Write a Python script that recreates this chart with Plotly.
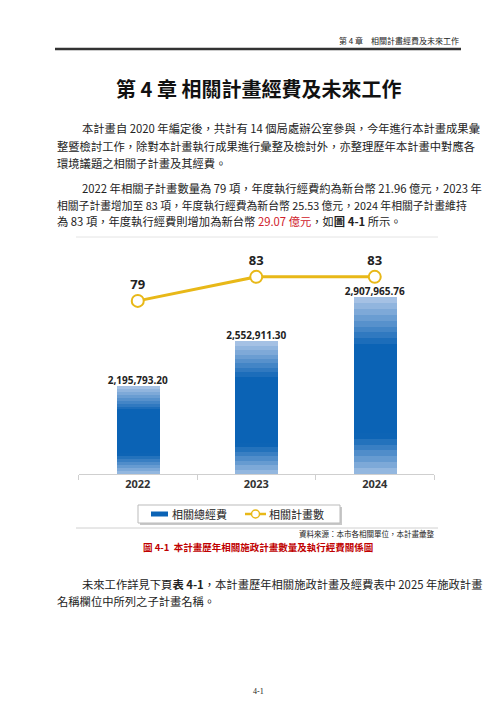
import plotly.graph_objects as go

years = ["2022", "2023", "2024"]
budget = [2195793.20, 2552911.30, 2907965.76]
budget_labels = ["2,195,793.20", "2,552,911.30", "2,907,965.76"]
counts = [79, 83, 83]

W, H = 500, 707
def px(x):
    return x / W
def py(y):
    return 1 - y / H

fig = go.Figure()

# gradient bars: nested bars from the baseline, tallest drawn first (light top, dark middle, light bottom)
ymin = 1492000
n = 30
def col(t):
    # t: 0 at bottom, 1 at top
    dark = (11, 99, 181)
    light = (175, 200, 232)
    if t > 0.72:
        f = (t - 0.72) / 0.28
    elif t < 0.22:
        f = (0.22 - t) / 0.22 * 0.9
    else:
        f = 0
    c = [int(d + (l - d) * f) for d, l in zip(dark, light)]
    return "rgb(%d,%d,%d)" % tuple(c)

for i in range(n):
    frac = (n - i) / n
    hs = [(v - ymin) * frac for v in budget]
    fig.add_trace(go.Bar(x=years, y=hs, base=[ymin] * 3, width=0.36,
                         marker=dict(color=col((n - i - 0.5) / n), line=dict(width=0)),
                         showlegend=False, hoverinfo="skip"))

fig.add_trace(go.Scatter(x=years, y=budget, mode="text", text=budget_labels,
                         textposition="top center",
                         textfont=dict(size=10, color="#222", family="Open Sans", weight="bold"),
                         showlegend=False))

fig.add_trace(go.Scatter(x=years, y=counts, yaxis="y2", mode="lines+markers+text",
                         text=[str(c) for c in counts], textposition="top center",
                         textfont=dict(size=13, color="#222", family="Open Sans", weight="bold"),
                         line=dict(color="#e8b818", width=3),
                         marker=dict(size=12, color="white", line=dict(color="#e8b818", width=2)),
                         cliponaxis=False, showlegend=False))

fig.update_layout(
    width=W, height=H, margin=dict(l=0, r=0, t=0, b=0),
    paper_bgcolor="white", plot_bgcolor="white", barmode="overlay", bargap=0,
    xaxis=dict(domain=[px(70.5), px(426)], range=[-0.5, 2.5], type="category",
               showline=True, linecolor="#cfcfcf", ticks="outside", tickson="boundaries",
               tickcolor="#cfcfcf", ticklen=5, showgrid=False,
               tickfont=dict(size=11, color="#333", family="Open Sans", weight="bold")),
    yaxis=dict(domain=[py(466), py(240)], range=[ymin, 3300000], visible=False),
    yaxis2=dict(domain=[py(466), py(240)], range=[50.2, 87.8], overlaying="y",
                visible=False),
)

fontcjk = "Noto Sans CJK TC"
shapes = [
    dict(type="line", xref="paper", yref="paper", x0=px(47), x1=px(453),
         y0=py(41), y1=py(41), line=dict(color="#333", width=2.5)),
    dict(type="line", xref="paper", yref="paper", x0=px(68), x1=px(430),
         y0=py(229), y1=py(229), line=dict(color="#e4e4e4", width=1)),
    dict(type="line", xref="paper", yref="paper", x0=px(68), x1=px(430),
         y0=py(520), y1=py(520), line=dict(color="#d0d0d0", width=1)),
    # legend box
    dict(type="rect", xref="paper", yref="paper", x0=px(132), x1=px(334),
         y0=py(499), y1=py(517), line=dict(width=0), fillcolor="#c8c8c8"),
    dict(type="rect", xref="paper", yref="paper", x0=px(130), x1=px(332),
         y0=py(497), y1=py(515), line=dict(color="#bbb", width=1), fillcolor="white"),
    dict(type="line", xref="paper", yref="paper", x0=px(143), x1=px(160),
         y0=py(506), y1=py(506), line=dict(color="#0b63b5", width=5)),
    dict(type="line", xref="paper", yref="paper", x0=px(237), x1=px(258),
         y0=py(506), y1=py(506), line=dict(color="#e8b818", width=2.5)),
    dict(type="circle", xref="paper", yref="paper", x0=px(243.5), x1=px(251.5),
         y0=py(510), y1=py(502), line=dict(color="#e8b818", width=1.5), fillcolor="white"),
]

def txt(x, y, s, size=12, anchor="left", color="#222", bold=False, family=fontcjk):
    return dict(x=px(x), y=py(y), xref="paper", yref="paper", text=s, showarrow=False,
                xanchor=anchor, yanchor="middle",
                font=dict(size=size, color=color, family=family,
                          weight="bold" if bold else "normal"))

ann = [
    txt(453, 32, "第 4 章　相關計畫經費及未來工作", 8, "right"),
    txt(250, 80, "第 4 章 相關計畫經費及未來工作", 20, "center", "#111", True),
    txt(72, 120, "本計畫自 2020 年編定後，共計有 14 個局處辦公室參與，今年進行本計畫成果彙", 11.3),
    txt(47, 138, "整暨檢討工作，除對本計畫執行成果進行彙整及檢討外，亦整理歷年本計畫中對應各", 11.3),
    txt(47, 155, "環境議題之相關子計畫及其經費。", 11.3),
    txt(72, 180, "2022 年相關子計畫數量為 79 項，年度執行經費約為新台幣 21.96 億元，2023 年", 11.3),
    txt(47, 197, "相關子計畫增加至 83 項，年度執行經費為新台幣 25.53 億元，2024 年相關子計畫維持", 10.8),
    txt(47, 213, "為 83 項，年度執行經費則增加為新台幣 <span style='color:#d0202a'>29.07 億元</span>，如<b>圖 4-1</b> 所示。", 11.3),
    txt(162, 506, "相關總經費", 11),
    txt(259, 506, "相關計畫數", 11),
    txt(428, 525, "資料來源：本市各相關單位，本計畫彙整", 7.5, "right"),
    txt(250, 539, "<b>圖 4-1</b>  本計畫歷年相關施政計畫數量及執行經費關係圖", 9.5, "center", "#c00000", True),
    txt(72, 576, "未來工作詳見下頁<b>表 4-1</b>，本計畫歷年相關施政計畫及經費表中 2025 年施政計畫", 11.3),
    txt(47, 593, "名稱欄位中所列之子計畫名稱。", 11.3),
    txt(250, 683, "4-1", 8, "center", "#222", False, "Liberation Serif"),
]
fig.update_layout(shapes=shapes, annotations=ann)

fig.write_html("out.html")
